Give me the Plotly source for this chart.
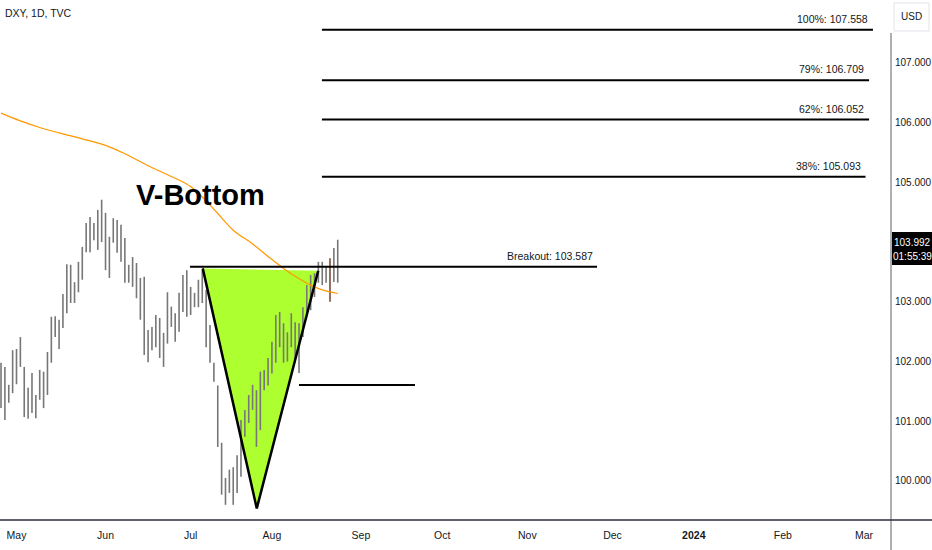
import pandas as pd
import plotly.graph_objects as go

# ---------------- data ----------------
dates = pd.bdate_range("2023-04-25", "2023-08-24")

opens = [101.24, 101.85, 101.45, 101.52,
         101.68, 102.15, 101.90, 101.32, 101.42, 101.24, 101.37, 101.62, 101.46, 102.07,
         102.69, 102.43, 102.58, 102.86, 103.54, 103.20, 103.20, 103.50, 103.88, 104.25,
         104.21, 104.05, 104.10,
         104.22, 103.55, 104.02, 104.04, 104.12, 103.84, 103.34, 103.55, 103.62, 103.35,
         102.95, 102.12, 102.27, 102.50, 102.53, 102.08, 102.38, 102.90, 102.70, 102.52,
         103.02, 103.36,
         102.91, 102.98, 102.95, 103.35, 103.18, 102.30, 101.95, 101.60, 100.60, 99.80,
         99.90, 99.95, 99.85, 100.28, 100.85, 101.08, 101.38, 101.33, 100.88, 101.78,
         101.62,
         101.85, 102.28, 102.58, 102.50, 102.02, 102.25, 102.55, 102.48, 102.60, 102.85,
         103.20, 103.18, 103.42, 103.58, 103.38, 103.33, 103.55, 103.40]
highs = [101.98, 101.91, 101.61, 102.19,
         102.21, 102.41, 101.91, 101.56, 101.81, 101.44, 101.86, 101.83, 102.16, 102.75,
         102.76, 102.70, 103.13, 103.63, 103.62, 103.33, 103.67, 103.92, 104.32, 104.42,
         104.32, 104.54, 104.71,
         104.49, 104.09, 104.40, 104.37, 104.29, 104.07, 103.62, 103.75, 103.65, 103.40,
         103.42, 102.53, 102.58, 102.78, 102.73, 102.48, 103.16, 102.92, 102.81, 103.15,
         103.45, 103.53,
         103.25, 103.15, 103.37, 103.53, 103.20, 102.61, 101.98, 101.60, 100.64, 100.05,
         100.19, 100.23, 100.43, 101.02, 101.19, 101.44, 101.61, 101.52, 101.83, 101.86,
         102.06,
         102.33, 102.78, 102.83, 102.64, 102.49, 102.81, 102.66, 102.64, 102.91, 103.28,
         103.45, 103.48, 103.67, 103.67, 103.58, 103.73, 103.90, 104.04]
lows = [101.22, 101.02, 101.31, 101.47,
        101.62, 101.91, 101.07, 101.04, 101.14, 101.05, 101.36, 101.22, 101.44, 101.98,
        102.41, 102.21, 102.56, 102.81, 102.98, 102.98, 103.16, 103.37, 103.83, 103.83,
        104.03, 103.87, 104.00,
        103.53, 103.40, 103.99, 103.82, 103.67, 103.32, 103.32, 103.25, 103.06, 102.70,
        102.11, 101.99, 102.19, 102.24, 102.06, 101.91, 102.30, 102.58, 102.33, 102.50,
        102.83, 102.75,
        102.78, 102.91, 102.91, 102.98, 102.24, 101.98, 101.66, 100.57, 99.77, 99.60,
        99.80, 99.60, 99.80, 100.07, 100.74, 100.97, 101.19, 100.57, 100.85, 101.52,
        101.60,
        101.80, 101.98, 102.24, 101.98, 102.00, 102.24, 101.99, 101.81, 102.41, 102.81,
        102.86, 103.08, 103.32, 103.28, 103.32, 103.00, 103.33, 103.32]
closes = [101.86, 101.45, 101.50, 101.66,
          102.14, 101.96, 101.32, 101.42, 101.24, 101.37, 101.62, 101.46, 102.07, 102.69,
          102.43, 102.58, 102.86, 103.54, 103.20, 103.20, 103.50, 103.88, 104.25, 104.21,
          104.05, 104.10, 104.22,
          103.55, 104.02, 104.04, 104.12, 103.84, 103.34, 103.55, 103.62, 103.35, 102.95,
          102.12, 102.27, 102.50, 102.53, 102.08, 102.38, 102.90, 102.70, 102.52, 103.02,
          103.36, 102.91,
          102.98, 102.95, 103.35, 103.18, 102.30, 102.05, 101.70, 100.62, 99.80, 99.90,
          99.95, 99.85, 100.28, 100.85, 101.08, 101.38, 101.33, 100.88, 101.78, 101.62,
          101.85,
          102.28, 102.58, 102.50, 102.02, 102.08, 102.55, 102.48, 102.60, 102.85, 103.20,
          103.18, 103.42, 103.58, 103.38, 103.33, 103.55, 103.40, 103.992]

highlight_date = "2023-08-22"

# moving average read at a few bars
ma_dates = ["2023-04-25", "2023-05-02", "2023-05-09", "2023-05-16", "2023-05-24",
            "2023-06-01", "2023-06-08", "2023-06-16", "2023-06-26", "2023-07-03",
            "2023-07-11", "2023-07-18", "2023-07-25", "2023-07-31", "2023-08-04",
            "2023-08-09", "2023-08-15", "2023-08-18", "2023-08-24"]
ma_values = [106.16, 106.03, 105.92, 105.83, 105.73, 105.62, 105.48, 105.28, 105.10,
             104.93, 104.55, 104.20, 103.97, 103.76, 103.56, 103.43, 103.28, 103.20,
             103.14]

# V-bottom pattern points (left top, bottom, right top)
v_dates = ["2023-07-06 03:00", "2023-07-26 02:00", "2023-08-16 23:00"]
v_prices = [103.56, 99.54, 103.52]

breakout_level = 103.587
breakout_span = ["2023-06-30 20:00", "2023-11-27 00:00"]

target_level = 101.607
target_span = ["2023-08-10 00:00", "2023-09-20 23:00"]

fib_pcts = ["100%", "79%", "62%", "38%"]
fib_levels = [107.558, 106.709, 106.052, 105.093]
fib_start = "2023-08-17 22:00"
fib_ends = ["2024-03-05 07:00", "2024-03-04 07:00", "2024-03-04 07:00", "2024-03-01 09:00"]

last_price = 103.992
countdown = "01:55:39"

x_tickvals = ["2023-05-01", "2023-06-01", "2023-07-03", "2023-08-01", "2023-09-01",
              "2023-10-02", "2023-11-01", "2023-12-01", "2024-01-01", "2024-02-01",
              "2024-03-01"]
x_ticktext = ["May", "Jun", "Jul", "Aug", "Sep", "Oct", "Nov", "Dec", "<b>2024</b>",
              "Feb", "Mar"]
y_tickvals = [100, 101, 102, 103, 104, 105, 106, 107]
y_ticktext = [f"{v:.3f}" for v in y_tickvals]
y_ticktext[y_tickvals.index(104)] = ""

# ---------------- figure ----------------
FONT = "Liberation Sans, Arial, sans-serif"
TXT = "#131722"
W, H = 932, 550
ML, MR, MT, MB = 0, 41, 0, 30
PW, PH = W - ML - MR, H - MT - MB

df = pd.DataFrame(dict(d=dates, o=opens, h=highs, l=lows, c=closes))
hl = df["d"] == pd.Timestamp(highlight_date)

fig = go.Figure()

for mask, col in [(~hl, "#777777"), (hl, "#7d4a38")]:
    sub = df[mask]
    fig.add_trace(go.Ohlc(x=sub["d"], open=sub["o"], high=sub["h"], low=sub["l"],
                          close=sub["c"], increasing_line_color=col,
                          decreasing_line_color=col, line_width=1.6, tickwidth=0.35,
                          showlegend=False, hoverinfo="skip"))

fig.add_trace(go.Scatter(x=ma_dates, y=ma_values, mode="lines",
                         line=dict(color="#ff9800", width=1.2, shape="spline"),
                         showlegend=False, hoverinfo="skip"))

# V outline (two sides)
fig.add_trace(go.Scatter(x=v_dates, y=v_prices, mode="lines",
                         line=dict(color="black", width=2.5), showlegend=False,
                         hoverinfo="skip"))

fig.add_trace(go.Scatter(x=breakout_span, y=[breakout_level] * 2, mode="lines",
                         line=dict(color="black", width=2), showlegend=False,
                         hoverinfo="skip"))
fig.add_trace(go.Scatter(x=target_span, y=[target_level] * 2, mode="lines",
                         line=dict(color="black", width=2), showlegend=False,
                         hoverinfo="skip"))

annotations = []
for pct, lvl, end in zip(fib_pcts, fib_levels, fib_ends):
    fig.add_trace(go.Scatter(x=[fib_start, end], y=[lvl, lvl], mode="lines",
                             line=dict(color="black", width=2), showlegend=False,
                             hoverinfo="skip"))
    annotations.append(dict(x=end, y=lvl, xref="x", yref="y", text=f"{pct}: {lvl:.3f}",
                            showarrow=False, xanchor="right", yanchor="bottom",
                            xshift=-3, yshift=3, font=dict(size=10.5, color=TXT, family=FONT)))

annotations.append(dict(x=breakout_span[1], y=breakout_level, xref="x", yref="y",
                        text=f"Breakout: {breakout_level:.3f}", showarrow=False,
                        xanchor="right", yanchor="bottom", xshift=-2, yshift=3,
                        font=dict(size=10.5, color=TXT, family=FONT)))

annotations.append(dict(x="2023-07-05 16:00", y=104.79, xref="x", yref="y",
                        text="<b>V-Bottom</b>", showarrow=False, xanchor="center",
                        yanchor="middle", font=dict(size=29, color="black", family=FONT)))

annotations.append(dict(x=0, y=1 - 13 / PH, xref="paper", yref="paper", xshift=3,
                        text="DXY, 1D, TVC", showarrow=False, xanchor="left",
                        yanchor="middle", font=dict(size=10.5, color=TXT, family=FONT)))

# price scale items
px = lambda p: p / PW
py = lambda p: 1 - p / PH
annotations.append(dict(x=px(911.5), y=py(17), xref="paper", yref="paper", text="USD",
                        showarrow=False, xanchor="center", yanchor="middle",
                        font=dict(size=10, color=TXT, family=FONT)))
annotations.append(dict(x=px(912), y=last_price, xref="paper", yref="y",
                        text=f"{last_price:.3f}", showarrow=False, xanchor="center",
                        yanchor="middle", font=dict(size=10, color="white", family=FONT)))
annotations.append(dict(x=px(912), y=py(256.5), xref="paper", yref="paper",
                        text=countdown, showarrow=False, xanchor="center",
                        yanchor="middle", font=dict(size=10, color="white", family=FONT)))

# green V fill drawn below the price bars
vpath = "M" + " L".join(f"{d.replace(' ', '_')},{p}" for d, p in zip(v_dates, v_prices)) + " Z"

shapes = [
    dict(type="path", xref="x", yref="y", path=vpath, fillcolor="#adff2f",
         line=dict(width=0), layer="below"),
    dict(type="rect", xref="paper", yref="paper", x0=px(892), x1=px(932), y0=py(265),
         y1=py(232), fillcolor="black", line=dict(width=0), layer="above"),
    dict(type="rect", xref="paper", yref="paper", x0=px(894), x1=px(929), y0=py(31),
         y1=py(3), fillcolor="white", line=dict(width=1, color="#e0e3eb")),
    dict(type="line", xref="paper", yref="paper", x0=1, x1=1, y0=py(550), y1=py(33),
         line=dict(width=1, color="#5d606b")),
    dict(type="line", xref="paper", yref="paper", x0=0, x1=px(932), y0=0, y1=0,
         line=dict(width=1.5, color="#2a2e39")),
]

fig.update_layout(
    width=W, height=H, margin=dict(l=ML, r=MR, t=MT, b=MB, autoexpand=False),
    paper_bgcolor="white", plot_bgcolor="white", showlegend=False,
    font=dict(family=FONT, color=TXT, size=10.5),
    annotations=annotations, shapes=shapes,
    xaxis=dict(type="date", range=["2023-04-24 17:40", "2024-03-11 23:00"],
               rangebreaks=[dict(bounds=["sat", "mon"])],
               rangeslider=dict(visible=False), automargin=False,
               tickvals=x_tickvals, ticktext=x_ticktext, showgrid=False,
               zeroline=False, showline=False, ticks="", ticklabelstandoff=7,
               tickfont=dict(size=10.5), fixedrange=True),
    yaxis=dict(side="right", range=[99.346, 108.055], tickvals=y_tickvals,
               ticktext=y_ticktext, showgrid=False, zeroline=False, showline=False,
               automargin=False, ticks="", ticklabelstandoff=3,
               tickfont=dict(size=10), fixedrange=True),
)

fig.write_html("out.html", config=dict(displayModeBar=False))
